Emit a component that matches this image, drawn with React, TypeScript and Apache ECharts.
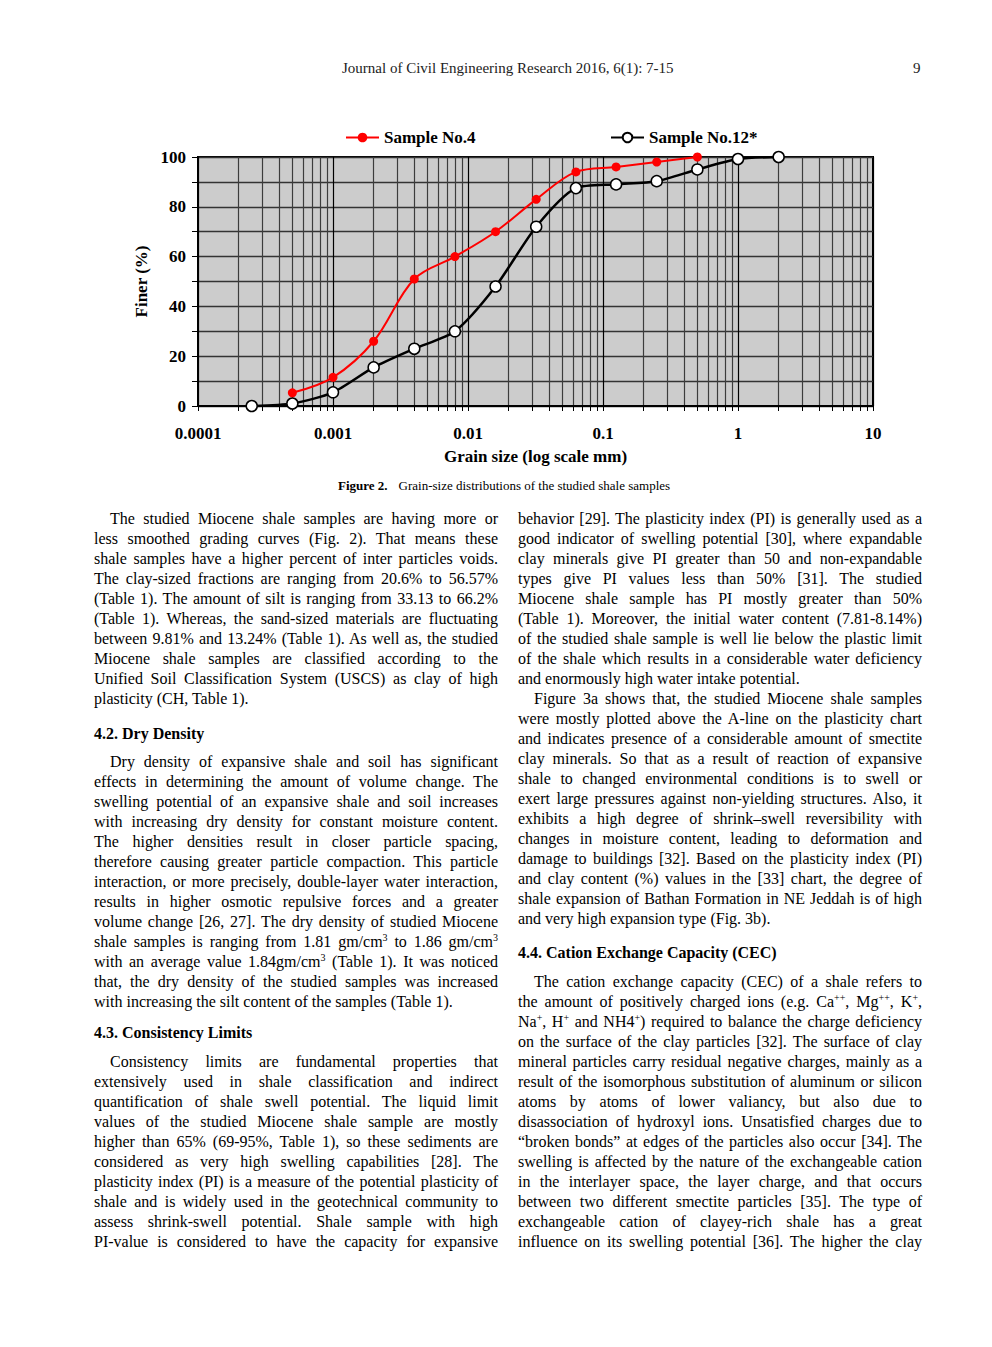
import * as echarts from 'echarts';
import React, { useEffect, useRef } from 'react';

// grain size (mm) and percent finer
const sample4Sizes = [0.0005, 0.001, 0.002, 0.004, 0.008, 0.016, 0.032, 0.063, 0.125, 0.25, 0.5];
const sample4Finer = [5.3, 11.5, 26, 51, 60, 70, 83, 94, 96, 98, 100];
const sample12Sizes = [0.00025, 0.0005, 0.001, 0.002, 0.004, 0.008, 0.016, 0.032, 0.063, 0.125, 0.25, 0.5, 1, 2];
const sample12Finer = [0, 1, 5.5, 15.5, 23, 30, 48, 72, 87.5, 89, 90.3, 95, 99.2, 100];
const seriesNames = ['Sample No.4', 'Sample No.12*'];

const xTickValues = [0.0001, 0.001, 0.01, 0.1, 1, 10];
const xTickLabels = ['0.0001', '0.001', '0.01', '0.1', '1', '10'];
const yTickLabels = ['0', '20', '40', '60', '80', '100'];
const logMultipliers = [1, 2, 3, 4, 5, 6, 7, 8, 9];

// page text, one entry per printed line
const leftBlocks = [
  {
    kind: 'p', y: 518, indent: true, end: true,
    lines: [
      'The studied Miocene shale samples are having more or',
      'less smoothed grading curves (Fig. 2). That means these',
      'shale samples have a higher percent of inter particles voids.',
      'The clay-sized fractions are ranging from 20.6% to 56.57%',
      '(Table 1). The amount of silt is ranging from 33.13 to 66.2%',
      '(Table 1). Whereas, the sand-sized materials are fluctuating',
      'between 9.81% and 13.24% (Table 1). As well as, the studied',
      'Miocene shale samples are classified according to the',
      'Unified Soil Classification System (USCS) as clay of high',
      'plasticity (CH, Table 1).',
    ],
  },
  { kind: 'h', y: 733, lines: ['4.2. Dry Density'] },
  {
    kind: 'p', y: 761, indent: true, end: true,
    lines: [
      'Dry density of expansive shale and soil has significant',
      'effects in determining the amount of volume change. The',
      'swelling potential of an expansive shale and soil increases',
      'with increasing dry density for constant moisture content.',
      'The higher densities result in closer particle spacing,',
      'therefore causing greater particle compaction. This particle',
      'interaction, or more precisely, double-layer water interaction,',
      'results in higher osmotic repulsive forces and a greater',
      'volume change [26, 27]. The dry density of studied Miocene',
      'shale samples is ranging from 1.81 gm/cm^{3} to 1.86 gm/cm^{3}',
      'with an average value 1.84gm/cm^{3} (Table 1). It was noticed',
      'that, the dry density of the studied samples was increased',
      'with increasing the silt content of the samples (Table 1).',
    ],
  },
  { kind: 'h', y: 1032, lines: ['4.3. Consistency Limits'] },
  {
    kind: 'p', y: 1061, indent: true, end: false,
    lines: [
      'Consistency limits are fundamental properties that',
      'extensively used in shale classification and indirect',
      'quantification of shale swell potential. The liquid limit',
      'values of the studied Miocene shale sample are mostly',
      'higher than 65% (69-95%, Table 1), so these sediments are',
      'considered as very high swelling capabilities [28]. The',
      'plasticity index (PI) is a measure of the potential plasticity of',
      'shale and is widely used in the geotechnical community to',
      'assess shrink-swell potential. Shale sample with high',
      'PI-value is considered to have the capacity for expansive',
    ],
  },
];

const rightBlocks = [
  {
    kind: 'p', y: 518, indent: false, end: true,
    lines: [
      'behavior [29]. The plasticity index (PI) is generally used as a',
      'good indicator of swelling potential [30], where expandable',
      'clay minerals give PI greater than 50 and non-expandable',
      'types give PI values less than 50% [31]. The studied',
      'Miocene shale sample has PI mostly greater than 50%',
      '(Table 1). Moreover, the initial water content (7.81-8.14%)',
      'of the studied shale sample is well lie below the plastic limit',
      'of the shale which results in a considerable water deficiency',
      'and enormously high water intake potential.',
    ],
  },
  {
    kind: 'p', y: 698, indent: true, end: true,
    lines: [
      'Figure 3a shows that, the studied Miocene shale samples',
      'were mostly plotted above the A-line on the plasticity chart',
      'and indicates presence of a considerable amount of smectite',
      'clay minerals. So that as a result of reaction of expansive',
      'shale to changed environmental conditions is to swell or',
      'exert large pressures against non-yielding structures. Also, it',
      'exhibits a high degree of shrink\u2013swell reversibility with',
      'changes in moisture content, leading to deformation and',
      'damage to buildings [32]. Based on the plasticity index (PI)',
      'and clay content (%) values in the [33] chart, the degree of',
      'shale expansion of Bathan Formation in NE Jeddah is of high',
      'and very high expansion type (Fig. 3b).',
    ],
  },
  { kind: 'h', y: 952, lines: ['4.4. Cation Exchange Capacity (CEC)'] },
  {
    kind: 'p', y: 981, indent: true, end: false,
    lines: [
      'The cation exchange capacity (CEC) of a shale refers to',
      'the amount of positively charged ions (e.g. Ca^{++}, Mg^{++}, K^{+},',
      'Na^{+}, H^{+} and NH4^{+}) required to balance the charge deficiency',
      'on the surface of the clay particles [32]. The surface of clay',
      'mineral particles carry residual negative charges, mainly as a',
      'result of the isomorphous substitution of aluminum or silicon',
      'atoms by atoms of lower valiancy, but also due to',
      'disassociation of hydroxyl ions. Unsatisfied charges due to',
      '\u201cbroken bonds\u201d at edges of the particles also occur [34]. The',
      'swelling is affected by the nature of the exchangeable cation',
      'in the interlayer space, the layer charge, and that occurs',
      'between two different smectite particles [35]. The type of',
      'exchangeable cation of clayey-rich shale has a great',
      'influence on its swelling potential [36]. The higher the clay',
    ],
  },
];

const serif = "'Liberation Serif', 'Times New Roman', serif";

const GrainSizeChart = () => {
  const chartRef = useRef<HTMLDivElement>(null);

  useEffect(() => {
    const chart = echarts.init(chartRef.current, null, { renderer: 'svg' });

    // 1..9 in every decade for the log grid
    const logTicks: number[] = [];
    xTickValues.slice(0, -1).forEach((d) => logMultipliers.forEach((m) => logTicks.push(d * m)));
    logTicks.push(xTickValues[xTickValues.length - 1]);

    const labelFor = (v: number) => {
      const i = xTickValues.findIndex((t) => Math.abs(Math.log10(t) - Math.log10(v)) < 1e-6);
      return i >= 0 ? xTickLabels[i] : '';
    };

    const legendText = { fontFamily: serif, fontSize: 17, fontWeight: 'bold', color: '#000' };

    chart.setOption({
      animation: false,
      textStyle: { fontFamily: serif },
      legend: [
        {
          data: [seriesNames[0]], left: 345, top: 19, padding: 0, itemWidth: 33, itemHeight: 12,
          textStyle: legendText,
        },
        {
          data: [seriesNames[1]], left: 610, top: 19, padding: 0, itemWidth: 33, itemHeight: 12,
          textStyle: legendText,
        },
      ],
      grid: {
        left: 198, top: 47, width: 675, height: 252,
        show: true, backgroundColor: '#cccccc', borderColor: '#000', borderWidth: 2,
      },
      xAxis: {
        type: 'log',
        logBase: 10,
        min: 0.0001,
        max: 10,
        name: 'Grain size (log scale mm)',
        nameLocation: 'middle',
        nameGap: 42,
        nameTextStyle: { fontFamily: serif, fontSize: 17, fontWeight: 'bold', color: '#000' },
        axisLine: { show: true, lineStyle: { color: '#000', width: 2 } },
        axisTick: { show: true, customValues: logTicks, length: 5, lineStyle: { color: '#000', width: 1 } },
        axisLabel: {
          customValues: xTickValues,
          formatter: (v: number) => labelFor(v),
          margin: 19,
          fontFamily: serif, fontSize: 17, fontWeight: 'bold', color: '#000',
        },
        splitLine: {
          show: true,
          lineStyle: { color: ['#000', '#3c3c3c', '#3c3c3c', '#3c3c3c', '#3c3c3c', '#3c3c3c', '#3c3c3c', '#3c3c3c', '#3c3c3c'], width: 1.2 },
        },
        minorTick: { show: false },
      },
      yAxis: {
        type: 'value',
        min: 0,
        max: 100,
        interval: 10,
        name: 'Finer (%)',
        nameLocation: 'middle',
        nameGap: 46,
        nameTextStyle: { fontFamily: serif, fontSize: 17, fontWeight: 'bold', color: '#000' },
        axisLine: { show: true, lineStyle: { color: '#000', width: 2 } },
        axisTick: { show: true, length: 6, lineStyle: { color: '#000', width: 1 } },
        axisLabel: {
          formatter: (v: number) => (yTickLabels.includes(String(v)) ? String(v) : ''),
          margin: 12,
          fontFamily: serif, fontSize: 17, fontWeight: 'bold', color: '#000',
        },
        splitLine: { show: true, lineStyle: { color: '#333', width: 1.3 } },
      },
      series: [
        {
          name: seriesNames[0],
          type: 'line',
          data: sample4Sizes.map((x, i) => [x, sample4Finer[i]]),
          smooth: 0.35,
          symbol: 'circle',
          symbolSize: 9,
          clip: false,
          z: 3,
          lineStyle: { color: '#ff0000', width: 2 },
          itemStyle: { color: '#ff0000' },
        },
        {
          name: seriesNames[1],
          type: 'line',
          data: sample12Sizes.map((x, i) => [x, sample12Finer[i]]),
          smooth: 0.25,
          symbol: 'circle',
          symbolSize: 11,
          clip: false,
          z: 2,
          lineStyle: { color: '#000', width: 2.5 },
          itemStyle: { color: '#fff', borderColor: '#000', borderWidth: 1.5 },
        },
      ],
    });

    return () => {
      chart.dispose();
    };
  }, []);

  return <div ref={chartRef} style={{ position: 'absolute', left: 0, top: 110, width: 992, height: 360 }} />;
};

// turns "cm^{3}" into a superscript
const rich = (s: string) =>
  s.split(/(\^\{[^}]*\})/).map((part, i) =>
    part.startsWith('^{') ? (
      <sup key={i} style={{ fontSize: 10, lineHeight: 0, verticalAlign: 'super' }}>
        {part.slice(2, -1)}
      </sup>
    ) : (
      <React.Fragment key={i}>{part}</React.Fragment>
    ),
  );

const Column = ({ blocks, x }: { blocks: any[]; x: number }) => {
  const width = 404;
  const out: React.ReactNode[] = [];
  blocks.forEach((b, bi) => {
    b.lines.forEach((line: string, li: number) => {
      const top = b.y + li * 20 - 9;
      if (b.kind === 'h') {
        out.push(
          <div key={`${bi}-${li}`} style={{ position: 'absolute', left: x, top, height: 20, lineHeight: '20px', fontSize: 16, fontWeight: 'bold', whiteSpace: 'nowrap' }}>
            {line}
          </div>,
        );
        return;
      }
      const ind = b.indent && li === 0 ? 16 : 0;
      const last = b.end && li === b.lines.length - 1;
      out.push(
        <div
          key={`${bi}-${li}`}
          style={{
            position: 'absolute', left: x + ind, top, width: width - ind, height: 20,
            lineHeight: '20px', fontSize: 16, textAlign: 'justify',
            textAlignLast: last ? 'left' : 'justify',
          }}
        >
          {rich(line)}
        </div>,
      );
    });
  });
  return <>{out}</>;
};

export default function App() {
  return (
    <div style={{ position: 'absolute', left: 0, top: 0, width: 992, height: 1347, background: '#fff', fontFamily: serif, color: '#000', overflow: 'hidden' }}>
      <div style={{ position: 'absolute', left: 342, top: 59, fontSize: 15, lineHeight: '18px', color: '#222', whiteSpace: 'nowrap' }}>
        Journal of Civil Engineering Research 2016, 6(1): 7-15
      </div>
      <div style={{ position: 'absolute', left: 913, top: 59, fontSize: 15, lineHeight: '18px', color: '#222' }}>9</div>
      <GrainSizeChart />
      <div style={{ position: 'absolute', left: 338, top: 477, fontSize: 13, lineHeight: '17px', whiteSpace: 'nowrap' }}>
        <b>Figure 2.</b>
        <span style={{ marginLeft: 11 }}>Grain-size distributions of the studied shale samples</span>
      </div>
      <Column blocks={leftBlocks} x={94} />
      <Column blocks={rightBlocks} x={518} />
    </div>
  );
}
